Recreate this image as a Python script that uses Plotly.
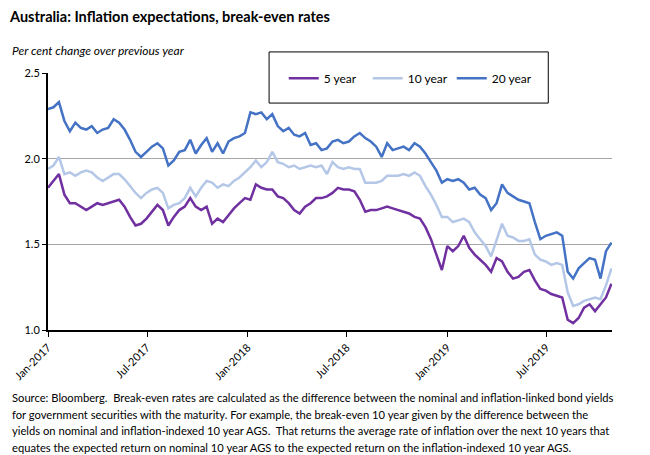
import pandas as pd
import plotly.graph_objects as go

# Readings every 10 days, Jan 2017 - Oct 2019 (per cent)
dates = pd.date_range("2017-01-01", periods=104, freq="10D")

be_5yr = [
    1.83, 1.87, 1.91, 1.79, 1.74, 1.74, 1.72, 1.70, 1.72, 1.74,
    1.73, 1.74, 1.75, 1.76, 1.72, 1.66, 1.61, 1.62, 1.65, 1.69,
    1.73, 1.70, 1.61, 1.66, 1.70, 1.72, 1.77, 1.72, 1.70, 1.72,
    1.62, 1.65, 1.63, 1.67, 1.71, 1.74, 1.77, 1.76, 1.85, 1.83,
    1.82, 1.82, 1.78, 1.77, 1.74, 1.70, 1.68, 1.72, 1.74, 1.77,
    1.77, 1.78, 1.80, 1.83, 1.82, 1.82, 1.81, 1.76, 1.69, 1.70,
    1.70, 1.71, 1.72, 1.71, 1.70, 1.69, 1.68, 1.66, 1.65, 1.60,
    1.53, 1.44, 1.35, 1.49, 1.46, 1.49, 1.55, 1.48, 1.44, 1.41,
    1.38, 1.34, 1.42, 1.40, 1.34, 1.30, 1.31, 1.34, 1.35, 1.29,
    1.24, 1.23, 1.21, 1.20, 1.19, 1.06, 1.04, 1.07, 1.13, 1.15,
    1.11, 1.15, 1.19, 1.27,
]

be_10yr = [
    1.94, 1.96, 2.01, 1.91, 1.92, 1.90, 1.92, 1.93, 1.92, 1.89,
    1.87, 1.89, 1.91, 1.91, 1.88, 1.84, 1.80, 1.77, 1.80, 1.82,
    1.83, 1.80, 1.71, 1.73, 1.74, 1.77, 1.83, 1.78, 1.83, 1.87,
    1.86, 1.83, 1.85, 1.84, 1.87, 1.89, 1.92, 1.95, 1.99, 1.95,
    1.98, 2.04, 1.98, 1.97, 1.95, 1.96, 1.94, 1.95, 1.96, 1.95,
    1.96, 1.91, 1.98, 1.95, 1.94, 1.95, 1.94, 1.94, 1.86, 1.86,
    1.86, 1.87, 1.90, 1.90, 1.90, 1.91, 1.90, 1.92, 1.90, 1.84,
    1.79, 1.73, 1.66, 1.66, 1.63, 1.64, 1.65, 1.63, 1.57, 1.53,
    1.49, 1.43, 1.52, 1.62, 1.55, 1.54, 1.52, 1.52, 1.53, 1.44,
    1.41, 1.40, 1.38, 1.39, 1.38, 1.22, 1.14, 1.15, 1.17, 1.18,
    1.19, 1.18, 1.26, 1.36,
]

be_20yr = [
    2.29, 2.30, 2.33, 2.22, 2.16, 2.21, 2.18, 2.17, 2.19, 2.15,
    2.17, 2.18, 2.23, 2.21, 2.17, 2.11, 2.04, 2.01, 2.04, 2.07,
    2.09, 2.06, 1.96, 1.99, 2.04, 2.05, 2.11, 2.03, 2.08, 2.12,
    2.04, 2.09, 2.03, 2.10, 2.12, 2.13, 2.15, 2.27, 2.26, 2.27,
    2.23, 2.26, 2.19, 2.16, 2.18, 2.14, 2.13, 2.15, 2.08, 2.09,
    2.05, 2.06, 2.10, 2.11, 2.09, 2.10, 2.13, 2.15, 2.12, 2.10,
    2.07, 2.01, 2.09, 2.05, 2.06, 2.07, 2.05, 2.09, 2.07, 2.03,
    1.98, 1.93, 1.86, 1.88, 1.87, 1.88, 1.86, 1.82, 1.83, 1.79,
    1.77, 1.70, 1.74, 1.85, 1.80, 1.78, 1.76, 1.75, 1.74, 1.63,
    1.53, 1.55, 1.56, 1.57, 1.55, 1.34, 1.30, 1.36, 1.39, 1.42,
    1.41, 1.30, 1.46, 1.51,
]

tick_dates = ["2017-01-01", "2017-07-01", "2018-01-01", "2018-07-01", "2019-01-01", "2019-07-01"]
tick_labels = ["Jan-2017", "Jul-2017", "Jan-2018", "Jul-2018", "Jan-2019", "Jul-2019"]

footnote_lines = [
    "Source: Bloomberg.  Break-even rates are calculated as the difference between the nominal and inflation-linked bond yields",
    "for government securities with the maturity. For example, the break-even 10 year given by the difference between the",
    "yields on nominal and inflation-indexed 10 year AGS.  That returns the average rate of inflation over the next 10 years that",
    "equates the expected return on nominal 10 year AGS to the expected return on the inflation-indexed 10 year AGS.",
]

font = "Lato, 'Open Sans', sans-serif"

fig = go.Figure()
fig.add_trace(go.Scatter(x=dates, y=be_5yr, name="5 year", mode="lines",
                         line=dict(color="#7030A0", width=2.5)))
fig.add_trace(go.Scatter(x=dates, y=be_10yr, name="10 year", mode="lines",
                         line=dict(color="#B4C7E7", width=2.5)))
fig.add_trace(go.Scatter(x=dates, y=be_20yr, name="20 year", mode="lines",
                         line=dict(color="#4472C4", width=2.5)))

# legend frame, larger than plotly's own legend box
fig.add_shape(type="rect", xref="paper", yref="paper",
              x0=0.392, x1=0.887, y0=0.883, y1=1.082,
              line=dict(color="black", width=1), fillcolor="white", layer="above")

fig.add_annotation(text="<i>Per cent change over previous year</i>",
                   xref="paper", yref="paper", x=-0.0674, y=1.089,
                   xanchor="left", yanchor="middle", showarrow=False,
                   font=dict(size=12, color="black", family=font))

# footnote, one annotation per line to keep the line spacing
for i, line in enumerate(footnote_lines):
    fig.add_annotation(text=line, xref="paper", yref="paper",
                       x=-0.0674, y=-0.264 - i * 0.064,
                       xanchor="left", yanchor="middle", showarrow=False,
                       font=dict(size=11.2, color="black", family=font))

fig.update_layout(
    width=650, height=455,
    margin=dict(l=48, r=38, t=73, b=125),
    paper_bgcolor="white", plot_bgcolor="white",
    font=dict(family=font, size=11, color="black"),
    title=dict(text="<b>Australia: Inflation expectations, break-even rates</b>",
               xref="container", yref="container", x=0.0154, y=0.975,
               xanchor="left", yanchor="top",
               font=dict(size=14.5, color="black", family=font)),
    showlegend=True,
    legend=dict(orientation="h", x=0.418, y=0.98, xanchor="left", yanchor="middle",
                bgcolor="rgba(0,0,0,0)", borderwidth=0, itemwidth=30,
                entrywidth=39, font=dict(size=12, family=font)),
    xaxis=dict(type="date", range=["2017-01-01", "2019-10-29"],
               tickvals=tick_dates, ticktext=tick_labels, tickangle=-45,
               showgrid=False, showline=True, linecolor="black", linewidth=2,
               ticks="outside", ticklen=5, tickwidth=1, tickcolor="black",
               zeroline=False),
    yaxis=dict(range=[1.0, 2.5], dtick=0.5, tickformat=".1f",
               showgrid=True, gridcolor="#A6A6A6", gridwidth=1,
               showline=True, linecolor="black", linewidth=2,
               ticks="outside", ticklen=4, tickwidth=1, tickcolor="black",
               zeroline=False),
)

fig.write_html("out.html", config={"displayModeBar": False},
               post_script="document.body.style.margin='0';")
